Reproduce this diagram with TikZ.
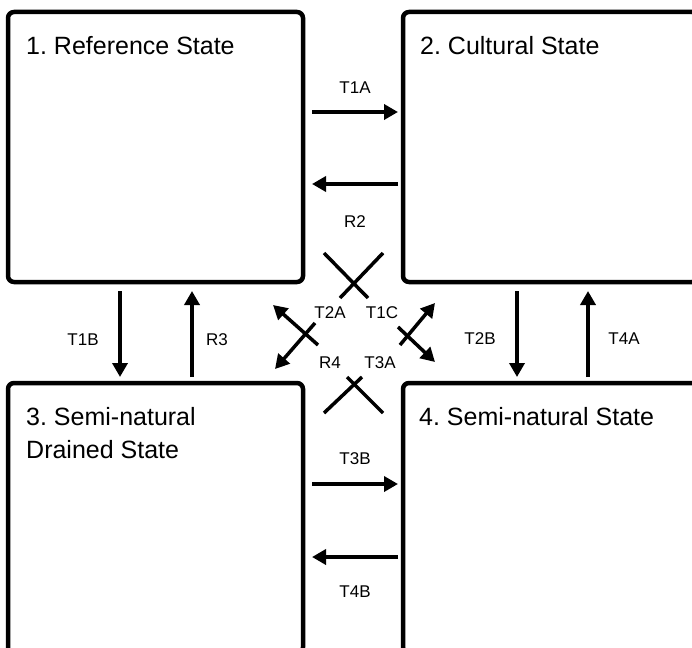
\documentclass[tikz,border=0pt]{standalone}
\usepackage{fontspec}
\setmainfont{Liberation Sans}
\usetikzlibrary{arrows.meta}
\frenchspacing

\begin{document}
\begin{tikzpicture}[x=1pt, y=-1pt,
  statebox/.style={draw, line width=4.5pt, rounded corners=6pt, minimum width=295pt,
    minimum height=270pt, inner sep=0pt, outer sep=0pt, anchor=north west},
  title/.style={font=\fontsize{25}{33}\selectfont, anchor=base west, inner sep=0pt, align=left},
  flow/.style={line width=3.5pt, -{Triangle[length=14pt,width=15pt]}},
  cross/.style={line width=3.5pt},
  tag/.style={font=\fontsize{17}{20}\selectfont, inner sep=0pt}]
  \useasboundingbox (0,0) rectangle (692,647);
  \clip (0,0) rectangle (692,647);
  % state boxes
  \node[statebox] (ref) at (8,12) {};
  \node[statebox] (cult) at (403,12) {};
  \node[statebox] (drain) at (8,383) {};
  \node[statebox] (semi) at (403,383) {};
  \node[title] (refT) at ([shift={(18,43)}]ref.north west) {1. Reference State};
  \node[title] (cultT) at ([shift={(17,43)}]cult.north west) {2. Cultural State};
  \node[title] (drainT) at ([shift={(18,75)}]drain.north west) {3. Semi-natural\\Drained State};
  \node[title] (semiT) at ([shift={(16,42)}]semi.north west) {4. Semi-natural State};
  % horizontal transitions
  \draw[flow] ([shift={(9,-35)}]ref.east) -- ([shift={(-5,-35)}]cult.west);
  \draw[flow] ([shift={(-5,37)}]cult.west) -- ([shift={(9,37)}]ref.east);
  \draw[flow] ([shift={(9,-34)}]drain.east) -- ([shift={(-5,-34)}]semi.west);
  \draw[flow] ([shift={(-5,39)}]semi.west) -- ([shift={(9,39)}]drain.east);
  % vertical transitions
  \draw[flow] ([shift={(-35.5,9)}]ref.south) -- ([shift={(-35.5,-6)}]drain.north);
  \draw[flow] ([shift={(36.5,-6)}]drain.north) -- ([shift={(36.5,9)}]ref.south);
  \draw[flow] ([shift={(-33.5,9)}]cult.south) -- ([shift={(-33.5,-6)}]semi.north);
  \draw[flow] ([shift={(37.5,-6)}]semi.north) -- ([shift={(37.5,9)}]cult.south);
  % diagonal transitions
  \draw[cross] (324,253) -- (368,298);
  \draw[cross] (383,253) -- (340,298);
  \draw[cross] (347,377) -- (383,413);
  \draw[cross] (362,377) -- (324,413);
  \draw[flow] (318,345) -- (273,305);
  \draw[flow] (315,323) -- (275,369);
  \draw[flow] (400,345) -- (435,303);
  \draw[flow] (398,327) -- (435,362);
  % labels
  \node[tag] (t1a) at (355,88) {T1A};
  \node[tag] (r2) at (355,222) {R2};
  \node[tag] (t1b) at (83,340) {T1B};
  \node[tag] (r3) at (217,340) {R3};
  \node[tag] (t2b) at (480,339) {T2B};
  \node[tag] (t4a) at (624,339) {T4A};
  \node[tag] (t3b) at (355,459) {T3B};
  \node[tag] (t4b) at (355,592) {T4B};
  \node[tag] (t2a) at (330,313) {T2A};
  \node[tag] (t1c) at (382,313) {T1C};
  \node[tag] (r4) at (330,363) {R4};
  \node[tag] (t3a) at (380,363) {T3A};
\end{tikzpicture}
\end{document}
